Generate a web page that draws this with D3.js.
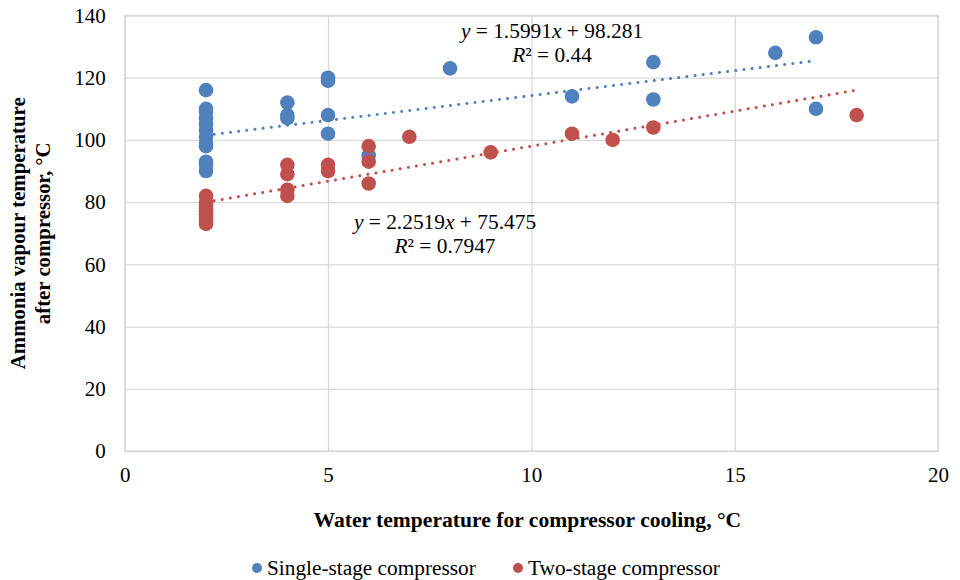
<!DOCTYPE html>
<html>
<head>
<meta charset="utf-8">
<script src="https://cdn.jsdelivr.net/npm/d3@7"></script>
<style>
  body { margin: 0; background: #fff; }
  text { font-family: "Liberation Serif", "Times New Roman", serif; fill: #000; }
</style>
</head>
<body>
<svg id="chart" width="960" height="580"></svg>
<script>
// Series data (x = water temperature, y = vapour temperature)
const singleX = [2, 2, 2, 2, 2, 2, 2, 2, 2, 2, 2, 2, 4, 4, 4, 5, 5, 5, 5, 6, 8, 11, 13, 13, 16, 17, 17];
const singleY = [116, 110, 109, 107, 105, 103, 101, 99, 98, 93, 92, 90, 112, 108, 107, 120, 119, 108, 102, 95, 123, 114, 125, 113, 128, 133, 110];
const twoX = [2, 2, 2, 2, 2, 2, 2, 2, 2, 4, 4, 4, 4, 5, 5, 6, 6, 6, 7, 9, 11, 12, 13, 18];
const twoY = [82, 80, 79, 78, 77, 76, 75, 74, 73, 92, 89, 84, 82, 92, 90, 98, 93, 86, 101, 96, 102, 100, 104, 108];

// Trendline coefficients [slope, intercept] and labels
const singleTrend = [1.5991, 98.281];
const twoTrend = [2.2519, 75.475];
const singleR2 = "0.44";
const twoR2 = "0.7947";

const seriesNames = ["Single-stage compressor", "Two-stage compressor"];
const xTicks = [0, 5, 10, 15, 20];
const yTicks = [0, 20, 40, 60, 80, 100, 120, 140];

const BLUE = "#4F81BD";
const RED = "#C0504D";
const GRID = "#d9d9d9";
const FONT = "Liberation Serif";

const svg = d3.select("#chart");

const plotLeft = 124.7;
const plotRight = 938;
const plotTop = 15.5;
const plotBottom = 451;

const xScale = d3.scaleLinear().domain([0, 20]).range([plotLeft, plotRight]);
const yScale = d3.scaleLinear().domain([0, 140]).range([plotBottom, plotTop]);

// Grid
const xAxisGrid = d3.axisBottom(xScale).tickValues(xTicks).tickSize(-(plotBottom - plotTop)).tickFormat("");
const yAxisGrid = d3.axisLeft(yScale).tickValues(yTicks).tickSize(-(plotRight - plotLeft)).tickFormat("");

svg.append("g")
  .attr("transform", `translate(0,${plotBottom})`)
  .call(xAxisGrid)
  .call((g) => g.select(".domain").remove())
  .selectAll("line")
  .attr("stroke", GRID)
  .attr("stroke-width", 1.3);

svg.append("g")
  .attr("transform", `translate(${plotLeft},0)`)
  .call(yAxisGrid)
  .call((g) => g.select(".domain").remove())
  .selectAll("line")
  .attr("stroke", GRID)
  .attr("stroke-width", 1.3);

// Plot border
svg.append("rect")
  .attr("x", plotLeft)
  .attr("y", plotTop)
  .attr("width", plotRight - plotLeft)
  .attr("height", plotBottom - plotTop)
  .attr("fill", "none")
  .attr("stroke", GRID)
  .attr("stroke-width", 1.3);

// Tick labels
const xAxis = d3.axisBottom(xScale).tickValues(xTicks).tickSize(0).tickPadding(16);
svg.append("g")
  .attr("transform", `translate(0,${plotBottom})`)
  .call(xAxis)
  .call((g) => g.select(".domain").remove())
  .selectAll("text")
  .style("font-family", FONT)
  .style("font-size", "21px");

const yAxis = d3.axisLeft(yScale).tickValues(yTicks).tickSize(0).tickPadding(19);
svg.append("g")
  .attr("transform", `translate(${plotLeft},0)`)
  .call(yAxis)
  .call((g) => g.select(".domain").remove())
  .selectAll("text")
  .style("font-family", FONT)
  .style("font-size", "21px");

// Points
const drawPoints = (xs, ys, color) => {
  svg.append("g")
    .selectAll("circle")
    .data(xs.map((x, i) => ({ x: x, y: ys[i] })))
    .enter()
    .append("circle")
    .attr("cx", (d) => xScale(d.x))
    .attr("cy", (d) => yScale(d.y))
    .attr("r", 7.3)
    .attr("fill", color);
};
drawPoints(singleX, singleY, BLUE);
drawPoints(twoX, twoY, RED);

// Trendlines
const drawTrend = (xs, coef, color) => {
  const ends = d3.extent(xs).map((x) => ({ x: x, y: coef[0] * x + coef[1] }));
  svg.append("path")
    .datum(ends)
    .attr("d", d3.line().x((d) => xScale(d.x)).y((d) => yScale(d.y)))
    .attr("fill", "none")
    .attr("stroke", color)
    .attr("stroke-width", 3)
    .attr("stroke-linecap", "round")
    .attr("stroke-dasharray", "0.01 8.2");
};
drawTrend(singleX, singleTrend, BLUE);
drawTrend(twoX, twoTrend, RED);

// Equation labels
const drawEquation = (cx, cy, coef, r2) => {
  const eq = svg.append("text")
    .attr("x", cx)
    .attr("y", cy)
    .attr("text-anchor", "middle")
    .style("font-size", "21.4px");
  eq.append("tspan").style("font-style", "italic").text("y");
  eq.append("tspan").text(` = ${coef[0]}`);
  eq.append("tspan").style("font-style", "italic").text("x");
  eq.append("tspan").text(` + ${coef[1]}`);

  const r = svg.append("text")
    .attr("x", cx)
    .attr("y", cy + 24)
    .attr("text-anchor", "middle")
    .style("font-size", "21.4px");
  r.append("tspan").style("font-style", "italic").text("R");
  r.append("tspan").text(`² = ${r2}`);
};
drawEquation(552, 38, singleTrend, singleR2);
drawEquation(445, 229, twoTrend, twoR2);

// Axis titles
svg.append("text")
  .attr("x", (plotLeft + plotRight) / 2 - 4)
  .attr("y", 527)
  .attr("text-anchor", "middle")
  .style("font-size", "21.6px")
  .style("font-weight", "bold")
  .text("Water temperature for compressor cooling, °C");

const yTitle = svg.append("text")
  .attr("transform", `translate(0,${(plotTop + plotBottom) / 2}) rotate(-90)`)
  .attr("text-anchor", "middle")
  .style("font-size", "20.8px")
  .style("font-weight", "bold");
yTitle.append("tspan").attr("x", 0).attr("y", 25).text("Ammonia vapour temperature");
yTitle.append("tspan").attr("x", 0).attr("y", 50).text("after compressor, °C");

// Legend
const legendItems = [
  { name: seriesNames[0], color: BLUE, x: 257 },
  { name: seriesNames[1], color: RED, x: 518 },
];
const legend = svg.append("g");
legendItems.forEach((d) => {
  legend.append("circle")
    .attr("cx", d.x)
    .attr("cy", 568)
    .attr("r", 5)
    .attr("fill", d.color);
  legend.append("text")
    .attr("x", d.x + 10)
    .attr("y", 575)
    .style("font-size", "21.3px")
    .text(d.name);
});
</script>
</body>
</html>
